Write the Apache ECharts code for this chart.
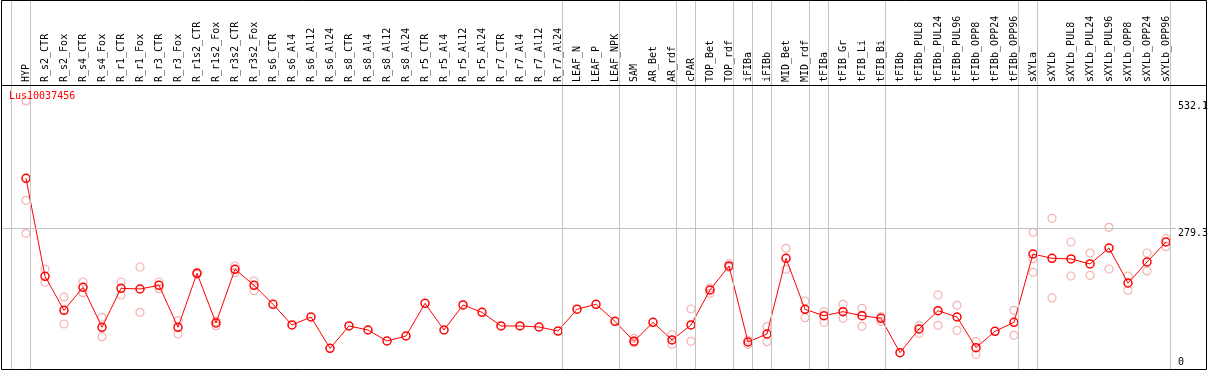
<!DOCTYPE html>
<html>
<head>
<meta charset="utf-8">
<script src="https://cdn.jsdelivr.net/npm/echarts@6/dist/echarts.min.js"></script>
<style>
  html, body { margin: 0; padding: 0; background: #fff; }
  #chart { width: 1209px; height: 370px; }
</style>
</head>
<body>
<div id="chart"></div>
<script>
const categories = [
  'HYP','R_s2_CTR','R_s2_Fox','R_s4_CTR','R_s4_Fox','R_r1_CTR','R_r1_Fox','R_r3_CTR','R_r3_Fox',
  'R_r1s2_CTR','R_r1s2_Fox','R_r3s2_CTR','R_r3s2_Fox','R_s6_CTR','R_s6_Al4','R_s6_Al12','R_s6_Al24',
  'R_s8_CTR','R_s8_Al4','R_s8_Al12','R_s8_Al24','R_r5_CTR','R_r5_Al4','R_r5_Al12','R_r5_Al24',
  'R_r7_CTR','R_r7_Al4','R_r7_Al12','R_r7_Al24','LEAF_N','LEAF_P','LEAF_NPK','SAM','AR_Bet','AR_rdf',
  'cPAR','TOP_Bet','TOP_rdf','iFIBa','iFIBb','MID_Bet','MID_rdf','tFIBa','tFIB_Gr','tFIB_Li','tFIB_Bi',
  'tFIBb','tFIBb_PUL8','tFIBb_PUL24','tFIBb_PUL96','tFIBb_OPP8','tFIBb_OPP24','tFIBb_OPP96',
  'sXYLa','sXYLb','sXYLb_PUL8','sXYLb_PUL24','sXYLb_PUL96','sXYLb_OPP8','sXYLb_OPP24','sXYLb_OPP96'
];

const meanValues = [
  378.6, 184.0, 116.5, 162.2, 82.8, 160.2, 158.8, 166.2, 82.8,
  190.0, 91.3, 197.9, 166.2, 128.4, 87.4, 103.2, 41.0,
  85.4, 77.4, 55.6, 65.5, 130.4, 77.4, 127.1, 112.5,
  85.4, 85.4, 83.4, 75.4, 118.7, 128.4, 94.6, 54.9, 92.6, 57.6,
  87.4, 156.8, 204.5, 53.6, 69.5, 219.7, 118.5, 105.8, 113.8, 105.8, 100.6,
  32.4, 79.4, 115.8, 103.2, 42.3, 74.8, 92.6,
  228.3, 219.7, 218.4, 208.5, 240.2, 170.7, 212.4, 252.1
];

const rep1 = [
  532.1, 198.5, 143.0, 172.7, 102.6, 172.7, 202.5, 172.7, 95.9,
  192.0, 94.6, 204.5, 174.7, null, null, null, null,
  null, null, null, null, null, null, null, null,
  null, null, null, null, null, null, null, 60.9, null, 68.2,
  119.1, 160.8, 209.1, 57.6, 84.0, 239.6, 135.0, 113.8, 128.4, 120.4, 103.9,
  null, 86.0, 146.9, 126.4, 54.2, null, 116.5,
  271.4, 299.2, 252.1, 230.3, 281.3, 184.6, 230.3, 258.7
];

const rep2 = [
  334.9, 172.0, 89.3, 151.5, 64.2, 146.9, 112.5, 159.5, 69.5,
  188.0, 86.0, 191.2, 155.5, null, null, null, null,
  null, null, null, null, null, null, null, null,
  null, null, null, null, null, null, null, 52.3, null, 48.9,
  54.9, 150.2, 201.9, 48.9, 54.2, 197.9, 101.9, 92.6, 100.6, 84.7, 94.6,
  null, 70.9, 86.7, 76.8, 29.1, null, 66.8,
  192.0, 141.0, 184.6, 186.0, 198.5, 156.2, 194.6, 242.8
];

const rep3 = [
  269.4, null, null, null, null, null, null, null, null,
  null, null, null, null, null, null, null, null,
  null, null, null, null, null, null, null, null,
  null, null, null, null, null, null, null, null, null, null,
  null, null, null, null, null, null, null, null, null, null, null,
  null, null, null, null, null, null, null,
  219.0, null, null, null, null, null, null, null
];

const yTickValues = [0, 279.3, 532.1];
const geneId = 'Lus10037456';
// group separators are drawn just after these category indices
const separatorsAfter = [-1, 0, 28, 31, 34, 35, 37, 38, 39, 41, 42, 45, 52, 53, 60];

const FONT = 'DejaVu Sans Mono';
const toPairs = arr => arr.map((v, i) => v == null ? null : [i, v]).filter(d => d);
const repData = toPairs(rep1).concat(toPairs(rep2), toPairs(rep3));
const meanData = meanValues.map((v, i) => [i, v]);

const chart = echarts.init(document.getElementById('chart'), null, { renderer: 'canvas' });
chart.setOption({
  animation: false,
  backgroundColor: '#fff',
  title: {
    text: geneId, left: 9, top: 91, padding: 0, z: 10,
    textStyle: { color: '#ff0000', fontSize: 10, fontWeight: 'normal', fontFamily: FONT }
  },
  grid: { left: 1, right: 33, top: 0, bottom: 1, containLabel: false, outerBoundsMode: 'none' },
  xAxis: {
    type: 'value', position: 'top', offset: -85,
    min: -25 / 19, max: -25 / 19 + 1175 / 19,
    axisLine: { show: false }, axisTick: { show: false }, splitLine: { show: false },
    axisLabel: {
      customValues: categories.map((c, i) => i),
      formatter: v => categories[Math.round(v)] || '',
      rotate: 90, margin: 3, fontSize: 10, fontFamily: FONT, color: '#000'
    }
  },
  yAxis: {
    type: 'value', position: 'right', min: 0, max: 369 * 279.3 / 140.7,
    axisLine: { show: false }, axisTick: { show: false }, splitLine: { show: false },
    axisLabel: {
      customValues: yTickValues, margin: 2, fontSize: 10, fontFamily: FONT, color: '#000',
      verticalAlign: 'middle', align: 'left',
      formatter: v => v === 0 ? '{b|' + v + '}' : '{t|' + v + '}',
      rich: {
        t: { fontSize: 10, fontFamily: FONT, lineHeight: 12, padding: [11, 0, 0, 0] },
        b: { fontSize: 10, fontFamily: FONT, lineHeight: 12, padding: [0, 0, 14, 0] }
      }
    }
  },
  graphic: [
    { type: 'rect', z: 100, silent: true, shape: { x: 1.5, y: 0.5, width: 1205, height: 369 },
      style: { fill: 'none', stroke: '#000', lineWidth: 1 } },
    { type: 'line', z: 100, silent: true, shape: { x1: 1, y1: 85.5, x2: 1206, y2: 85.5 },
      style: { stroke: '#000', lineWidth: 1 } }
  ],
  series: [
    {
      type: 'line', data: [], z: 1, silent: true,
      markLine: {
        silent: true, symbol: ['none', 'none'], animation: false,
        label: { show: false },
        lineStyle: { color: '#c4c4c4', type: 'solid', width: 1 },
        data: separatorsAfter.map(i => ({ xAxis: i + 0.24 })).concat([{ yAxis: yTickValues[1] }])
      }
    },
    {
      type: 'scatter', data: repData, z: 2, symbol: 'circle', symbolSize: 8,
      itemStyle: { color: 'rgba(0,0,0,0)', borderColor: 'rgba(235,120,120,0.7)', borderWidth: 1.2 }
    },
    {
      type: 'line', data: meanData, z: 3, symbol: 'circle', symbolSize: 8, showSymbol: true,
      lineStyle: { color: '#ff0000', width: 1 },
      itemStyle: { color: 'rgba(0,0,0,0)', borderColor: '#ff0000', borderWidth: 1.5 }
    }
  ]
});
</script>
</body>
</html>
